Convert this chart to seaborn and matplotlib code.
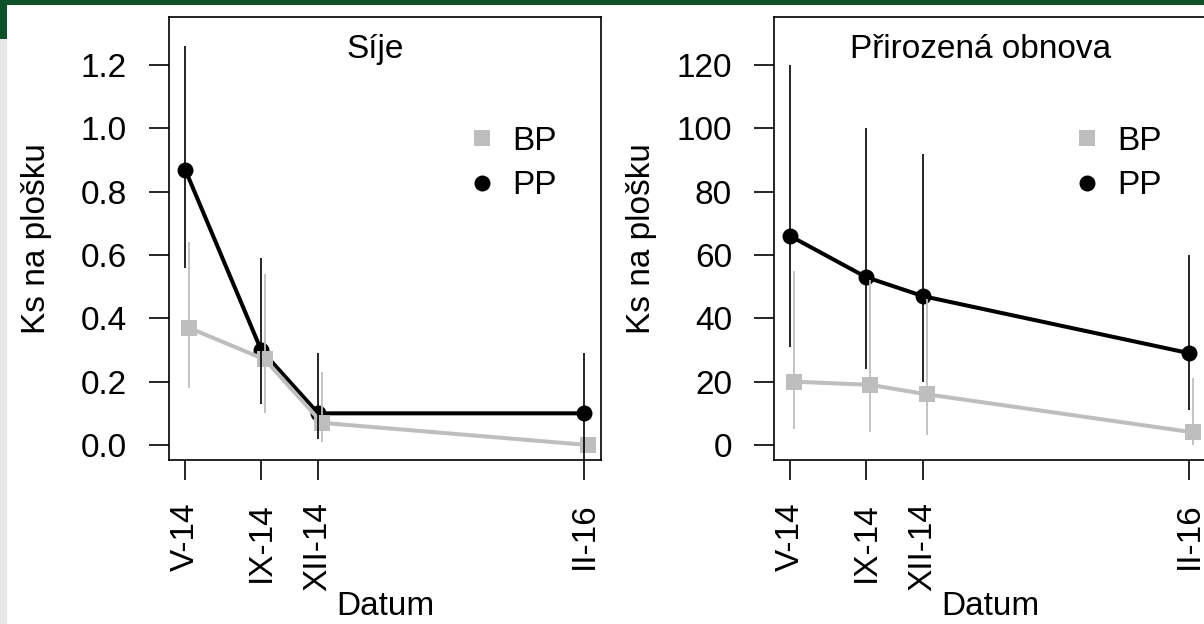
import numpy as np
import pandas as pd
import matplotlib
matplotlib.use("Agg")
import matplotlib.pyplot as plt
import seaborn as sns
from matplotlib.patches import Rectangle
from matplotlib.lines import Line2D

# ---------------- data ----------------
dates = ["V-14", "IX-14", "XII-14", "II-16"]
month_index = [5, 9, 12, 26]          # months since Jan 2014

sije_pp = [0.87, 0.30, 0.10, 0.10]
sije_pp_lo = [0.56, 0.13, 0.02, -0.09]
sije_pp_hi = [1.26, 0.59, 0.29, 0.29]
sije_bp = [0.37, 0.27, 0.07, 0.00]
sije_bp_lo = [0.18, 0.10, 0.01, 0.00]
sije_bp_hi = [0.64, 0.54, 0.23, 0.00]

obn_pp = [66, 53, 47, 29]
obn_pp_lo = [31, 24, 20, 11]
obn_pp_hi = [120, 100, 92, 60]
obn_bp = [20, 19, 16, 4]
obn_bp_lo = [5, 4, 3, 0]
obn_bp_hi = [55, 52, 46, 21]

panel_titles = ["Síje", "Přirozená obnova"]
y_ticks_left = [0.0, 0.2, 0.4, 0.6, 0.8, 1.0, 1.2]
y_ticks_right = [0, 20, 40, 60, 80, 100, 120]

# ---------------- style ----------------
sns.set_style("ticks")
plt.rcParams["font.family"] = ["Liberation Sans", "DejaVu Sans"]
plt.rcParams["text.color"] = "black"
plt.rcParams["axes.labelcolor"] = "black"
plt.rcParams["xtick.color"] = "black"
plt.rcParams["ytick.color"] = "black"
FS = 24
GRAY = "#bebebe"
BP_SHIFT = 0.2

fig = plt.figure(figsize=(12.04, 6.24), dpi=100)
W, H = 1204, 624

def px_axes(x0, y0, x1, y1):
    return fig.add_axes([x0 / W, 1 - y1 / H, (x1 - x0) / W, (y1 - y0) / H])

ax1 = px_axes(169, 17, 601, 460)
ax2 = px_axes(774, 17, 1206, 460)

panels = [
    (ax1, sije_pp, sije_pp_lo, sije_pp_hi, sije_bp, sije_bp_lo, sije_bp_hi,
     y_ticks_left, (-0.0474, 1.3516), 1.25, "{:.1f}"),
    (ax2, obn_pp, obn_pp_lo, obn_pp_hi, obn_bp, obn_bp_lo, obn_bp_hi,
     y_ticks_right, (-4.74, 135.16), 125, "{:.0f}"),
]

for i, (ax, pp, pplo, pphi, bp, bplo, bphi, yt, ylim, ty, fmt) in enumerate(panels):
    df_pp = pd.DataFrame({"month": month_index, "value": pp})
    df_bp = pd.DataFrame({"month": [m + BP_SHIFT for m in month_index], "value": bp})

    sns.lineplot(data=df_pp, x="month", y="value", ax=ax, color="black", lw=2.9,
                 marker="o", markersize=11.5, markeredgewidth=0, zorder=3)
    sns.lineplot(data=df_bp, x="month", y="value", ax=ax, color=GRAY, lw=2.9,
                 marker="s", markersize=11.5, markeredgewidth=0, zorder=4)
    ax.vlines(df_bp["month"], bplo, bphi, color=GRAY, lw=1.3, zorder=5)
    ax.vlines(df_pp["month"], pplo, pphi, color="black", lw=1.2, zorder=6)

    ax.set_xlim(4.15, 26.89)
    ax.set_ylim(*ylim)
    ax.set_xticks(month_index)
    ax.set_xticklabels(dates, rotation=90, fontsize=FS)
    ax.set_yticks(yt)
    ax.set_yticklabels([fmt.format(v) for v in yt], fontsize=FS)
    ax.tick_params(length=14.4, width=1.2, pad=15.8, color="black", labelcolor="black")

    for sp in ax.spines.values():
        sp.set_visible(True)
        sp.set_color("black")
        sp.set_linewidth(1.2)

    ax.set_xlabel("Datum", fontsize=FS)
    ax.set_ylabel("Ks na plošku", fontsize=FS)
    ax.xaxis.set_label_coords(0.5, -0.296)
    ax.yaxis.set_label_coords(-0.27, 0.5)

    ax.text(15, ty, panel_titles[i], ha="center", va="center", fontsize=FS)

    handles = [Line2D([], [], ls="", marker="s", color=GRAY, markersize=11.5, mew=0),
               Line2D([], [], ls="", marker="o", color="black", markersize=11.5, mew=0)]
    ax.legend(handles, ["BP", "PP"], frameon=False, loc="upper left",
              bbox_to_anchor=(0.686, 0.754), handlelength=1.0, handletextpad=0.42,
              labelspacing=0.4, borderpad=0, borderaxespad=0, fontsize=FS)

# ---------------- page decorations ----------------
GREEN = "#0c5128"
fig.add_artist(Rectangle((0, 1 - 5 / H), 1, 5 / H, transform=fig.transFigure,
                         color=GREEN, lw=0, zorder=10))
fig.add_artist(Rectangle((0, 1 - 39 / H), 7 / W, 39 / H, transform=fig.transFigure,
                         color=GREEN, lw=0, zorder=10))
fig.add_artist(Rectangle((0, 0), 7 / W, 1 - 39 / H, transform=fig.transFigure,
                         color="#e8e8e8", lw=0, zorder=10))

fig.savefig("out.png", dpi=100, facecolor="white")
